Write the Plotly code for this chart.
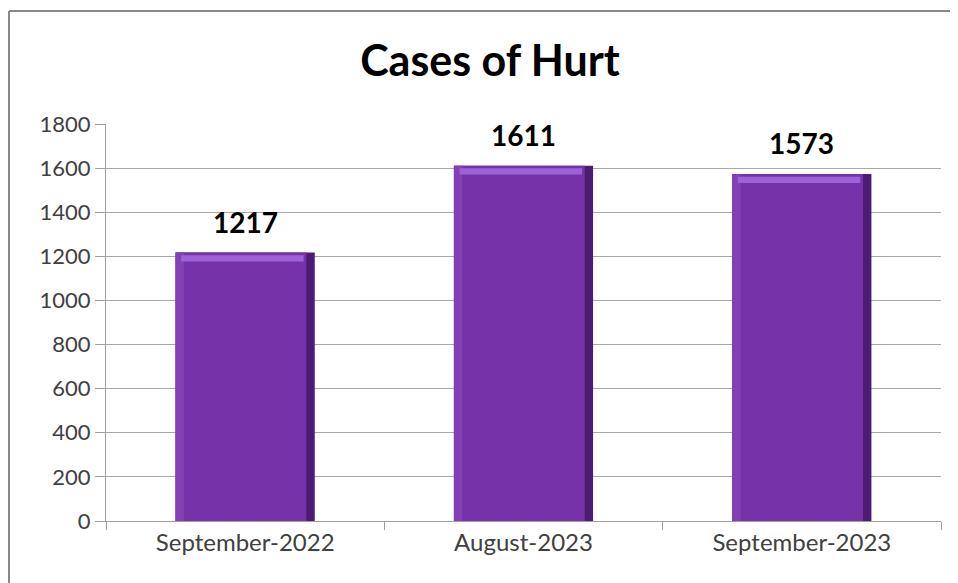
import plotly.graph_objects as go

categories = ["September-2022", "August-2023", "September-2023"]
values = [1217, 1611, 1573]
title_text = "Cases of Hurt"
y_ticks = [0, 200, 400, 600, 800, 1000, 1200, 1400, 1600, 1800]

FONT = "Lato, 'Open Sans', sans-serif"
fig = go.Figure()

# dark body (right/bottom bevel)
fig.add_trace(go.Bar(x=categories, y=values, width=0.5,
                     marker=dict(color="#4c1c72", line=dict(width=0)),
                     hoverinfo="skip", showlegend=False))
# main face
fig.add_trace(go.Bar(x=categories, y=values, width=0.47, offset=-0.25,
                     marker=dict(color="#7632a8", line=dict(width=0)),
                     showlegend=False))
# lighter left strip
fig.add_trace(go.Bar(x=categories, y=values, width=0.03, offset=-0.25,
                     marker=dict(color="#8240b4", line=dict(width=0)),
                     hoverinfo="skip", showlegend=False))
# top highlight
fig.add_trace(go.Bar(x=categories, y=[28]*3, base=[v - 40 for v in values],
                     width=0.44, offset=-0.23,
                     marker=dict(color="#9d62d8", line=dict(width=0)),
                     hoverinfo="skip", showlegend=False))

for c, v in zip(categories, values):
    fig.add_annotation(x=c, y=v, text=f"<b>{v}</b>", showarrow=False,
                       yanchor="bottom", yshift=12,
                       font=dict(family=FONT, size=28, color="#000000"))

bx0 = (9 - 106) / 835
by1 = (521 - 11) / 397
border = dict(color="#888888", width=2)

# page body has 8px offset; plot area targeted at page x 106..941, y 124..521
fig.update_layout(
    barmode="overlay",
    width=950, height=575,
    margin=dict(l=98, r=17, t=116, b=62),
    paper_bgcolor="white", plot_bgcolor="white",
    title=dict(text=f"<b>{title_text}</b>", x=482 / 950, xanchor="center",
               y=1 - 53 / 575, yanchor="middle",
               font=dict(family=FONT, size=43, color="#000000")),
    xaxis=dict(type="category", tickson="boundaries", ticks="outside",
               ticklen=8, tickcolor="#a0a0a0", showline=True,
               linecolor="#a0a0a0", linewidth=1, showgrid=False,
               tickfont=dict(family=FONT, size=24, color="#404040")),
    yaxis=dict(range=[0, 1800], tickvals=y_ticks, ticks="outside",
               ticklen=10, tickcolor="#a0a0a0", showline=True,
               linecolor="#a0a0a0", linewidth=1, showgrid=True,
               gridcolor="#a8a8a8", gridwidth=1, zeroline=False,
               tickfont=dict(family=FONT, size=22, color="#404040")),
    shapes=[
        dict(type="line", xref="paper", yref="paper",
             x0=bx0, x1=1.2, y0=by1, y1=by1, line=border, layer="below"),
        dict(type="line", xref="paper", yref="paper",
             x0=bx0, x1=bx0, y0=-0.3, y1=by1, line=border, layer="below"),
    ],
)

fig.write_html("out.html")
